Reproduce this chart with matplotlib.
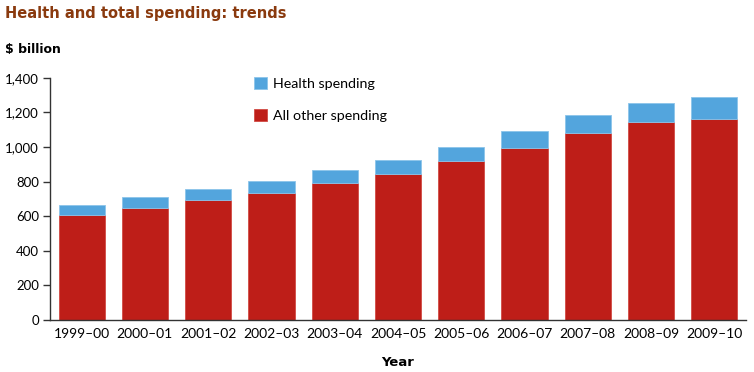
import numpy as np
import matplotlib
matplotlib.use('Agg')
import matplotlib.pyplot as plt

years = ['1999–00', '2000–01', '2001–02', '2002–03', '2003–04', '2004–05',
         '2005–06', '2006–07', '2007–08', '2008–09', '2009–10']
other = [609, 648, 694, 734, 792, 845, 916, 995, 1082, 1142, 1164]
health = [54, 60, 64, 68, 74, 81, 85, 97, 105, 114, 123]

red = '#be1e18'
blue = '#53a5dd'

plt.rcParams['font.family'] = ['Lato', 'DejaVu Sans']

fig = plt.figure(figsize=(7.54, 3.72), dpi=100)
ax = fig.add_axes([0.0663, 0.1398, 0.9231, 0.6513])

x = np.arange(len(years))
ax.bar(x, other, width=0.73, color=red, edgecolor='#d24a44', linewidth=0.6,
       label='All other spending')
ax.bar(x, health, width=0.73, bottom=other, color=blue, edgecolor='#8cc4ea',
       linewidth=0.6, label='Health spending')

ax.set_xlim(-0.5, 10.5)
ax.set_ylim(0, 1400)
ax.set_yticks(range(0, 1401, 200))
ax.set_yticklabels(['{:,}'.format(v) for v in range(0, 1401, 200)])
ax.set_xticks(x)
ax.set_xticklabels(years)
ax.tick_params(axis='y', length=5, width=1, color='#333333', labelsize=9.5, pad=3)
ax.tick_params(axis='x', length=0, labelsize=10, pad=6)
for s in ['top', 'right']:
    ax.spines[s].set_visible(False)
for s in ['left', 'bottom']:
    ax.spines[s].set_color('#333333')
    ax.spines[s].set_linewidth(1)

ax.set_xlabel('Year', fontweight='bold', fontsize=9.5, family='DejaVu Sans', labelpad=11)

h, l = ax.get_legend_handles_labels()
ax.legend(h[::-1], l[::-1], loc='upper left', bbox_to_anchor=(0.275, 1.055),
          frameon=False, handlelength=0.9, handleheight=0.9, handletextpad=0.4,
          labelspacing=1.35, fontsize=10.3)

fig.text(0.007, 0.965, 'Health and total spending: trends', fontsize=10.5,
         fontweight='bold', color='#8a3a0e', family='DejaVu Sans', va='center')
fig.text(0.007, 0.866, '$ billion', fontsize=9, fontweight='bold',
         family='DejaVu Sans', va='center')

fig.savefig('out.png', dpi=100)
